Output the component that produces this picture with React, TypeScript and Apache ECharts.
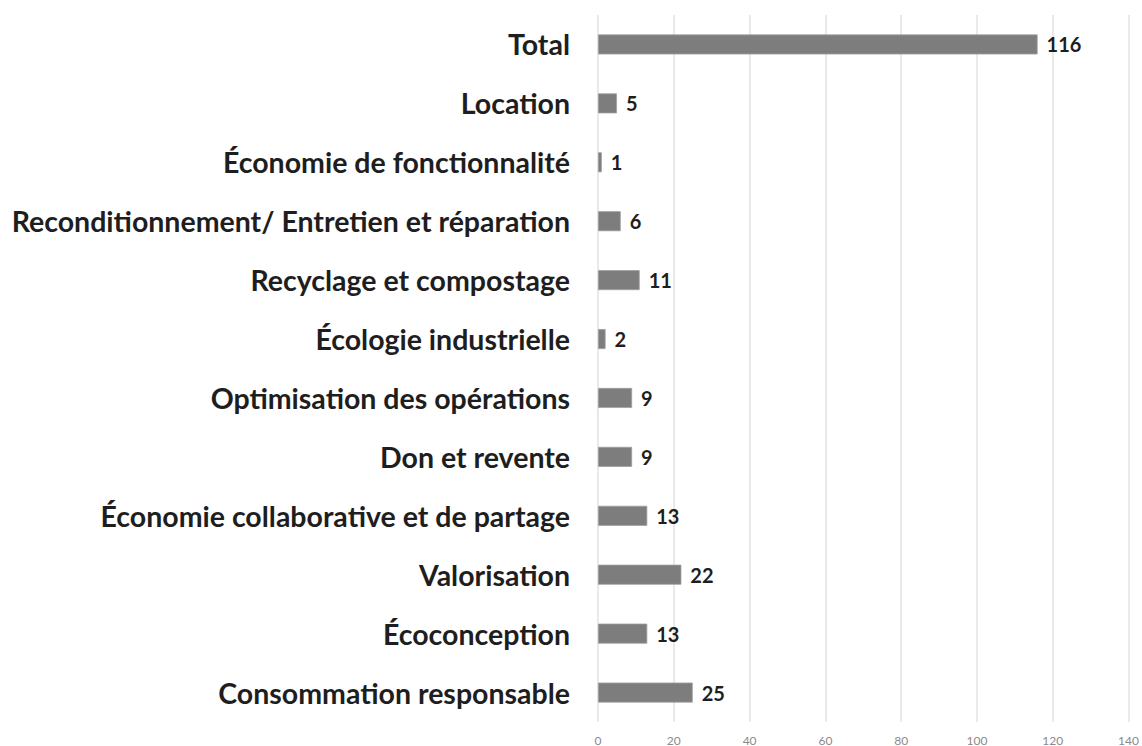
import React, { useEffect, useRef } from "react";
import * as echarts from "echarts";

const categories = [
  "Total",
  "Location",
  "Économie de fonctionnalité",
  "Reconditionnement/ Entretien et réparation",
  "Recyclage et compostage",
  "Écologie industrielle",
  "Optimisation des opérations",
  "Don et revente",
  "Économie collaborative et de partage",
  "Valorisation",
  "Écoconception",
  "Consommation responsable",
];
const values = [116, 5, 1, 6, 11, 2, 9, 9, 13, 22, 13, 25];

export default function App() {
  const ref = useRef<HTMLDivElement>(null);
  useEffect(() => {
    const chart = echarts.init(ref.current!, null, { renderer: "svg" });
    chart.setOption({
      animation: false,
      grid: { left: 598, right: 12, top: 15, bottom: 23, containLabel: false },
      xAxis: {
        type: "value",
        min: 0,
        max: 140,
        interval: 20,
        axisLine: { show: false },
        axisTick: { show: false },
        splitLine: { lineStyle: { color: "#e2e2e2", width: 1.5 } },
        axisLabel: { color: "#8a8a8a", fontSize: 12, fontFamily: "Lato", margin: 12 },
      },
      yAxis: {
        type: "category",
        data: categories,
        inverse: true,
        axisLine: { show: false },
        axisTick: { show: false },
        axisLabel: {
          color: "#1e1e1e",
          fontSize: 28.5,
          fontWeight: "bold",
          fontFamily: "Lato",
          margin: 28,
        },
      },
      series: [
        {
          type: "bar",
          data: values,
          barWidth: 20,
          itemStyle: { color: "#7d7d7d", borderColor: "#a0a0a0", borderWidth: 0.8 },
          label: {
            show: true,
            position: "right",
            distance: 9,
            color: "#1e1e1e",
            fontSize: 20,
            fontWeight: "bold",
            fontFamily: "Lato",
          },
        },
      ],
    });
    return () => chart.dispose();
  }, []);
  return <div ref={ref} style={{ width: 1142, height: 746, position: "absolute", left: 0, top: 0 }} />;
}
